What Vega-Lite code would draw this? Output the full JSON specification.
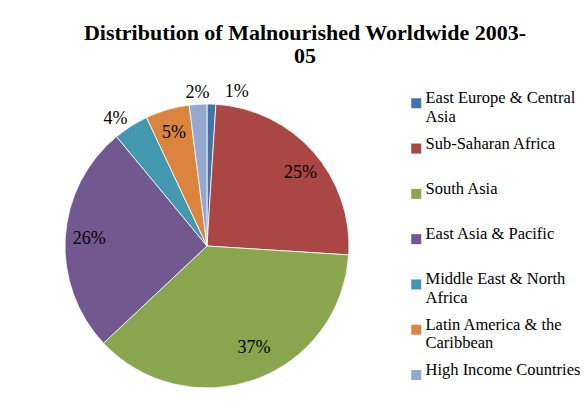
{
  "$schema": "https://vega.github.io/schema/vega-lite/v6.json",
  "autosize": "none",
  "padding": {"left": 65, "top": 104, "right": 237, "bottom": 25},
  "width": 284,
  "height": 284,
  "background": "white",
  "title": {
    "text": ["Distribution of Malnourished Worldwide 2003-", "05"],
    "font": "Liberation Serif",
    "fontSize": 22,
    "fontWeight": "bold",
    "color": "#000000",
    "anchor": "middle",
    "frame": "group",
    "dx": 98,
    "lineHeight": 23,
    "offset": 15
  },
  "data": {
    "values": [
      {"region": "East Europe & Central Asia", "share": 0.01},
      {"region": "Sub-Saharan Africa", "share": 0.25},
      {"region": "South Asia", "share": 0.37},
      {"region": "East Asia & Pacific", "share": 0.26},
      {"region": "Middle East & North Africa", "share": 0.04},
      {"region": "Latin America & the Caribbean", "share": 0.05},
      {"region": "High Income Countries", "share": 0.02}
    ]
  },
  "transform": [
    {"window": [{"op": "row_number", "as": "idx"}]}
  ],
  "encoding": {
    "theta": {"field": "share", "type": "quantitative", "stack": true, "scale": {"domain": [0, 1]}},
    "order": {"field": "idx", "type": "quantitative"}
  },
  "layer": [
    {
      "mark": {"type": "arc", "stroke": "#ffffff", "strokeWidth": 0.8},
      "encoding": {
        "color": {
          "field": "region",
          "type": "nominal",
          "sort": null,
          "scale": {
            "domain": ["East Europe & Central Asia", "Sub-Saharan Africa", "South Asia", "East Asia & Pacific", "Middle East & North Africa", "Latin America & the Caribbean", "High Income Countries"],
            "range": ["#4572A7", "#AA4643", "#89A54E", "#71588F", "#4198AF", "#DB843D", "#93A9CF"]
          },
          "legend": {
            "title": null,
            "orient": "none",
            "legendX": 343,
            "legendY": -9,
            "padding": 0,
            "symbolType": "square",
            "symbolSize": 100,
            "symbolStrokeWidth": 0,
            "labelFont": "Liberation Serif",
            "labelFontSize": 16.5,
            "labelColor": "#000000",
            "labelLimit": 240,
            "labelOffset": 1,
            "labelBaseline": "alphabetic",
            "rowPadding": 9.3,
            "labelExpr": "datum.label == 'East Europe & Central Asia' ? ['East Europe & Central', 'Asia'] : datum.label == 'Middle East & North Africa' ? ['Middle East & North', 'Africa'] : datum.label == 'Latin America & the Caribbean' ? ['Latin America & the', 'Caribbean'] : [datum.label, '']",
            "encoding": {"labels": {"update": {"dy": {"value": 5}, "lineHeight": {"value": 19}}}}
          }
        }
      }
    },
    {
      "mark": {"type": "text", "radius": 118, "font": "Liberation Serif", "fontSize": 18, "fill": "#000000"},
      "encoding": {
        "text": {"condition": {"test": "datum.region == 'East Asia & Pacific' || datum.region == 'Latin America & the Caribbean'", "field": "share", "type": "quantitative", "format": ".0%"}, "value": ""}
      }
    },
    {
      "mark": {"type": "text", "radius": 118, "dx": 5, "dy": 5, "font": "Liberation Serif", "fontSize": 18, "fill": "#000000"},
      "encoding": {
        "text": {"condition": {"test": "datum.region == 'Sub-Saharan Africa'", "field": "share", "type": "quantitative", "format": ".0%"}, "value": ""}
      }
    },
    {
      "mark": {"type": "text", "radius": 112, "dx": 9, "dy": -3, "font": "Liberation Serif", "fontSize": 18, "fill": "#000000"},
      "encoding": {
        "text": {"condition": {"test": "datum.region == 'South Asia'", "field": "share", "type": "quantitative", "format": ".0%"}, "value": ""}
      }
    },
    {
      "mark": {"type": "text", "radius": 156, "dx": -8, "dy": 5, "font": "Liberation Serif", "fontSize": 18, "fill": "#000000"},
      "encoding": {
        "text": {"condition": {"test": "datum.region == 'Middle East & North Africa'", "field": "share", "type": "quantitative", "format": ".0%"}, "value": ""}
      }
    },
    {
      "mark": {"type": "text", "radius": 153, "font": "Liberation Serif", "fontSize": 18, "fill": "#000000"},
      "encoding": {
        "text": {"condition": {"test": "datum.region == 'High Income Countries'", "field": "share", "type": "quantitative", "format": ".0%"}, "value": ""}
      }
    },
    {
      "mark": {"type": "text", "radius": 154, "dx": 25, "font": "Liberation Serif", "fontSize": 18, "fill": "#000000"},
      "encoding": {
        "text": {"condition": {"test": "datum.region == 'East Europe & Central Asia'", "field": "share", "type": "quantitative", "format": ".0%"}, "value": ""}
      }
    }
  ],
  "config": {"view": {"stroke": null}, "text": {"font": "Liberation Serif"}}
}
